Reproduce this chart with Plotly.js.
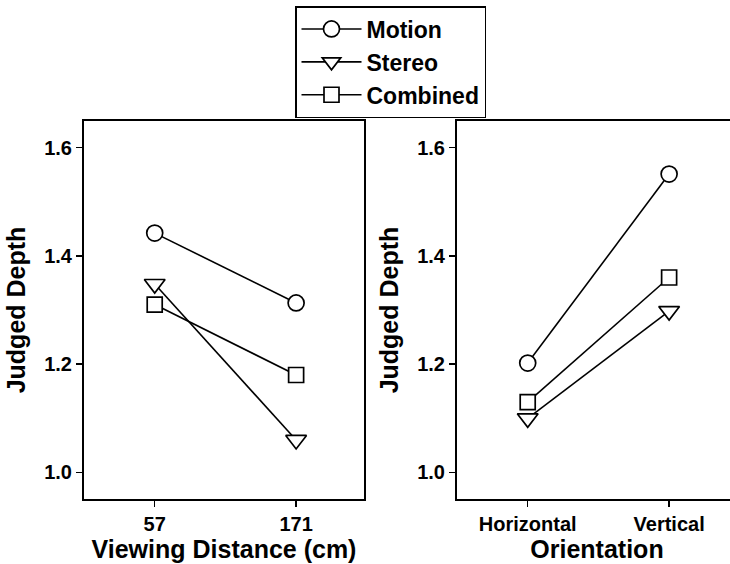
<!DOCTYPE html>
<html>
<head>
<meta charset="utf-8">
<script src="https://cdn.plot.ly/plotly-3.0.1.min.js"></script>
<style>html,body{margin:0;padding:0;overflow:hidden;background:#fff;width:730px;height:564px}</style>
</head>
<body>
<div id="chart" style="width:740px;height:564px"></div>
<script>
// Data
var seriesNames = ["Motion", "Stereo", "Combined"];
var seriesSymbols = ["circle", "triangle-down", "square"];
var distanceLabels = ["57", "171"];
var orientationLabels = ["Horizontal", "Vertical"];
var motionDistance = [1.442, 1.313];
var stereoDistance = [1.348, 1.060];
var combinedDistance = [1.310, 1.180];
var motionOrientation = [1.202, 1.551];
var stereoOrientation = [1.100, 1.298];
var combinedOrientation = [1.130, 1.360];
var yTicks = [1.0, 1.2, 1.4, 1.6];
var yTickLabels = ["1.0", "1.2", "1.4", "1.6"];

var distanceValues = [motionDistance, stereoDistance, combinedDistance];
var orientationValues = [motionOrientation, stereoOrientation, combinedOrientation];

var W = 740, H = 564;
var fontFam = "Liberation Sans, Arial, sans-serif";
var markerSizes = [16, 18, 15];
var traces = [];
function mk(i, xs, ys, xa, ya, show) {
  return {
    type: "scatter", mode: "lines+markers",
    x: xs, y: ys, xaxis: xa, yaxis: ya,
    name: seriesNames[i], showlegend: show,
    line: {color: "#000", width: 1.6},
    marker: {symbol: seriesSymbols[i], size: markerSizes[i], color: "#fff",
             line: {color: "#000", width: 1.7}},
    cliponaxis: false
  };
}
for (var i = 0; i < 3; i++) traces.push(mk(i, distanceLabels, distanceValues[i], "x", "y", true));
for (var j = 0; j < 3; j++) traces.push(mk(j, orientationLabels, orientationValues[j], "x2", "y2", false));

var tickFont = {family: fontFam, size: 20, color: "#000", weight: "bold"};
var titleFont = {family: fontFam, size: 25, color: "#000", weight: "bold"};
var yDom = [(H - 499) / H, (H - 121) / H];
function xAx(dom, title) {
  return {
    domain: dom, type: "category", range: [-0.5, 1.48],
    showline: true, linecolor: "#000", linewidth: 2, mirror: true,
    ticks: "outside", ticklen: 6, tickwidth: 1.5, tickcolor: "#000",
    showgrid: false, zeroline: false, tickfont: tickFont,
    title: {text: title, font: titleFont, standoff: 1}, automargin: false, fixedrange: true
  };
}
function yAx(anchor) {
  return {
    domain: yDom, anchor: anchor, range: [0.951, 1.649],
    tickvals: yTicks, ticktext: yTickLabels,
    showline: true, linecolor: "#000", linewidth: 2, mirror: true,
    ticks: "outside", ticklen: 6, tickwidth: 1.5, tickcolor: "#000",
    showgrid: false, zeroline: false, tickfont: tickFont,
    title: {text: "Judged Depth", font: titleFont, standoff: 11}, automargin: false, fixedrange: true
  };
}
var layout = {
  width: W, height: H,
  margin: {l: 0, r: 0, t: 0, b: 0},
  paper_bgcolor: "#fff", plot_bgcolor: "#fff",
  showlegend: true,
  xaxis: Object.assign(xAx([84 / W, 364 / W], "Viewing Distance (cm)"), {anchor: "y"}),
  yaxis: yAx("x"),
  xaxis2: Object.assign(xAx([457 / W, 737 / W], "Orientation"), {anchor: "y2"}),
  yaxis2: yAx("x2"),
  legend: {
    x: 295 / W, y: (H - 6) / H, xanchor: "left", yanchor: "top",
    bordercolor: "#000", borderwidth: 1.5, bgcolor: "#fff",
    font: {family: fontFam, size: 23, color: "#000", weight: "bold"},
    itemwidth: 60, tracegroupgap: 0
  }
};
Plotly.newPlot("chart", traces, layout, {staticPlot: true, displayModeBar: false});
</script>
</body>
</html>
